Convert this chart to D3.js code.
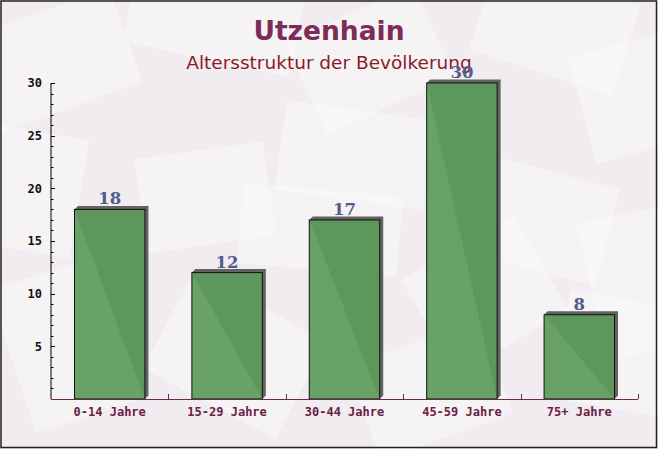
<!DOCTYPE html>
<html><head><meta charset="utf-8">
<script src="https://cdn.jsdelivr.net/npm/d3@7"></script>
<style>html,body{margin:0;padding:0;background:#fff}svg{display:block}</style>
</head><body>
<svg id="c" width="658" height="449"></svg>
<script>
const categories = ["0-14 Jahre","15-29 Jahre","30-44 Jahre","45-59 Jahre","75+ Jahre"];
const values = [18, 12, 17, 30, 8];
const yTicks = [5, 10, 15, 20, 25, 30];
const titleText = "Utzenhain";
const subtitleText = "Altersstruktur der Bevölkerung";

const svg = d3.select("#c");
const W = 658, H = 449;
const m = {left: 51, right: 20, top: 83, bottom: 50};

// background
svg.append("rect").attr("width", W).attr("height", H).attr("fill", "#f0ecef");
const deco = [
  [-20, 10, 150, 100, -20], [130, -30, 170, 90, 12], [300, 10, 140, 100, -25], [480, -20, 150, 95, 18],
  [580, 40, 120, 110, -15], [-30, 130, 110, 120, 10], [140, 150, 130, 95, -8], [280, 110, 150, 90, 8],
  [470, 170, 140, 100, 15], [590, 210, 120, 140, -12], [10, 270, 110, 150, -18], [160, 300, 150, 110, 28],
  [360, 340, 140, 100, -20], [560, 300, 130, 110, 10], [240, 190, 160, 80, 5], [420, 240, 130, 110, -30]
];
const dg = svg.append("g");
deco.forEach(d => {
  dg.append("rect").attr("x", d[0]).attr("y", d[1]).attr("width", d[2]).attr("height", d[3])
    .attr("fill", "#faf8f8").attr("opacity", 0.6)
    .attr("transform", `rotate(${d[4]},${d[0]+d[2]/2},${d[1]+d[3]/2})`);
});

const x = d3.scaleBand().domain(categories).range([m.left, W - m.right]).paddingInner(0.4).paddingOuter(0.2);
const y = d3.scaleLinear().domain([0, 30]).range([H - m.bottom, m.top]);

// titles
svg.append("text").attr("x", 329).attr("y", 40).attr("text-anchor", "middle")
  .attr("font-family", "DejaVu Sans, Verdana, sans-serif").attr("font-weight", "bold")
  .attr("font-size", 26.5).attr("fill", "#7b2d57").text(titleText);
svg.append("text").attr("x", 329).attr("y", 69).attr("text-anchor", "middle")
  .attr("font-family", "DejaVu Sans, Verdana, sans-serif")
  .attr("font-size", 18.5).attr("fill", "#8b1a2a").text(subtitleText);

// bars with 3D shadow
const d = 3.5;
const bars = svg.append("g");
categories.forEach((c, i) => {
  const x0 = x(c), x1 = x(c) + x.bandwidth(), yt = y(values[i]), yb = y(0);
  bars.append("path")
    .attr("d", `M${x0},${yt} L${x0+d},${yt-d} L${x1+d},${yt-d} L${x1+d},${yb-d} L${x1},${yb} Z`)
    .attr("fill", "#626262");
  bars.append("rect").attr("x", x0).attr("y", yt).attr("width", x.bandwidth()).attr("height", yb - yt)
    .attr("fill", "#5d9b5a").attr("fill-opacity", 0.93).attr("stroke", "#111").attr("stroke-width", 1);
  bars.append("text").attr("x", x0 + x.bandwidth()/2).attr("y", yt - 5).attr("text-anchor", "middle")
    .attr("font-family", "DejaVu Serif, serif").attr("font-weight", "bold").attr("font-size", 16.5)
    .attr("fill", "#515c8c").text(values[i]);
});

// y axis
const ya = svg.append("g").attr("transform", `translate(${m.left},0)`);
ya.append("line").attr("y1", y(0)).attr("y2", y(30)).attr("stroke", "#000");
d3.range(1, 31).forEach(v => {
  const major = v % 5 === 0;
  ya.append("line").attr("x1", 0).attr("x2", major ? 4 : 2.5).attr("y1", Math.round(y(v)) + 0.5).attr("y2", Math.round(y(v)) + 0.5).attr("stroke", "#000");
});
yTicks.forEach(v => {
  ya.append("text").attr("x", -9).attr("y", y(v)).attr("dy", "0.35em").attr("text-anchor", "end")
    .attr("font-family", "DejaVu Sans Mono, monospace").attr("font-weight", "bold").attr("font-size", 12)
    .attr("fill", "#111").text(v);
});

// x axis
const xa = svg.append("g");
xa.append("line").attr("x1", m.left).attr("x2", W - m.right).attr("y1", y(0) + 0.5).attr("y2", y(0) + 0.5).attr("stroke", "#6b2a4a");
categories.forEach((c, i) => {
  const px = Math.min(m.left + x.step() * (i + 1), W - m.right);
  xa.append("line").attr("x1", Math.round(px) + 0.5).attr("x2", Math.round(px) + 0.5).attr("y1", y(0)).attr("y2", y(0) - 5).attr("stroke", "#6b2a4a");
  xa.append("text").attr("x", x(c) + x.bandwidth()/2).attr("y", y(0) + 13).attr("dy", "0.35em").attr("text-anchor", "middle")
    .attr("font-family", "DejaVu Sans Mono, monospace").attr("font-weight", "bold").attr("font-size", 12)
    .attr("fill", "#6b2045").text(c);
});

// border
svg.append("rect").attr("x", 1).attr("y", 1).attr("width", W - 2.5).attr("height", H - 2.5)
  .attr("fill", "none").attr("stroke", "#222").attr("stroke-width", 1.5);
</script>
</body></html>
